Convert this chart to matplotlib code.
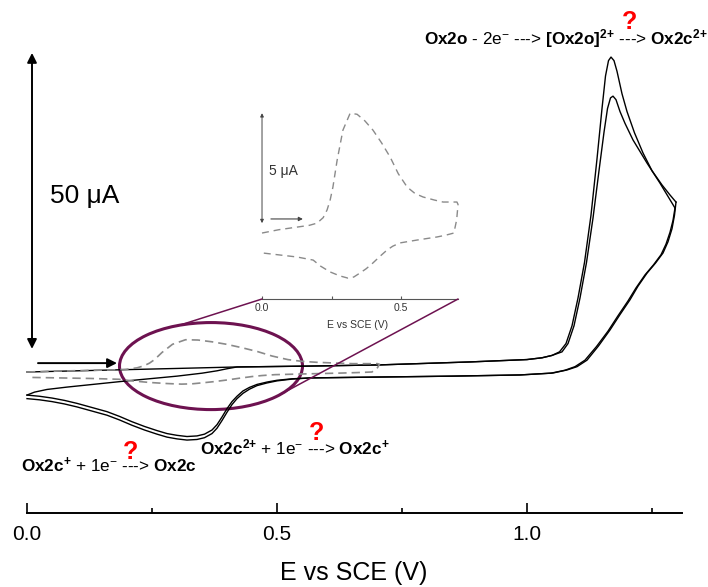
import numpy as np
import matplotlib
matplotlib.use("Agg")
import matplotlib.pyplot as plt
from matplotlib.patches import Ellipse, ConnectionPatch

plt.rcParams['font.family'] = ['Liberation Sans', 'DejaVu Sans']
plt.rcParams['mathtext.fontset'] = 'custom'
plt.rcParams['mathtext.rm'] = 'Liberation Sans'
plt.rcParams['mathtext.bf'] = 'Liberation Sans:bold'
plt.rcParams['mathtext.it'] = 'Liberation Sans:italic'

# first cycle, forward (anodic) scan
fwd1_v = [0.0, 0.1, 0.2, 0.3, 0.42, 0.566, 0.706, 0.886, 1.0, 1.03, 1.05, 1.065, 1.078, 1.09, 1.102,
          1.115, 1.128, 1.14, 1.15, 1.157, 1.163, 1.168, 1.174, 1.18, 1.19, 1.2, 1.215, 1.232,
          1.25, 1.27, 1.286, 1.298]
fwd1_i = [0.0, 0.2, 0.4, 0.6, 0.85, 1.0, 1.2, 1.7, 2.1, 2.4, 2.8, 3.4, 4.8, 7.8, 12.5,
          18.5, 26.5, 36.0, 44.5, 50.0, 52.6, 53.2, 52.6, 50.8, 47.0, 44.0, 40.4, 37.0,
          34.0, 31.6, 29.9, 28.7]
# first cycle, reverse scan
rev1_v = [1.298, 1.295, 1.29, 1.282, 1.272, 1.257, 1.24, 1.222, 1.206, 1.186, 1.166, 1.143, 1.12,
          1.1, 1.08, 1.052, 0.986, 0.85, 0.706, 0.566, 0.53, 0.50, 0.48, 0.46, 0.445, 0.432, 0.42,
          0.41, 0.40, 0.39, 0.38, 0.37, 0.355, 0.34, 0.32, 0.30, 0.28, 0.26, 0.235, 0.21, 0.185,
          0.16, 0.13, 0.10, 0.075, 0.05, 0.025, 0.0]
rev1_i = [28.7, 26.5, 24.2, 22.0, 20.1, 18.4, 16.7, 14.5, 12.2, 9.7, 7.1, 4.4, 2.0,
          0.9, 0.34, -0.17, -0.5, -0.7, -0.85, -1.0, -1.15, -1.4, -1.7, -2.1, -2.6, -3.2, -4.1,
          -5.0, -6.2, -7.6, -8.9, -9.8, -10.5, -10.8, -10.9, -10.7, -10.4, -9.9, -9.2, -8.4, -7.5,
          -6.7, -6.0, -5.3, -4.8, -4.4, -4.1, -3.9]
# second cycle, forward scan
fwd2_v = [0.0, 0.015, 0.04, 0.08, 0.12, 0.16, 0.2, 0.25, 0.3, 0.35, 0.38, 0.40, 0.42, 0.566, 0.706,
          0.886, 1.0, 1.03, 1.05, 1.07, 1.082, 1.094, 1.106, 1.119, 1.132, 1.144, 1.154, 1.161,
          1.167, 1.172, 1.178, 1.186, 1.196, 1.212, 1.24, 1.266, 1.296]
fwd2_i = [-3.9, -3.4, -2.95, -2.55, -2.2, -1.85, -1.5, -1.1, -0.7, -0.2, 0.2, 0.55, 0.85, 1.0, 1.2,
          1.7, 2.1, 2.4, 2.8, 3.4, 4.8, 7.8, 12.5, 18.5, 26.0, 34.0, 40.5, 44.5,
          46.3, 46.6, 46.0, 44.0, 42.0, 39.2, 35.3, 31.9, 27.7]
# second cycle, reverse scan
rev2_v = [1.296, 1.292, 1.286, 1.278, 1.268, 1.253, 1.236, 1.218, 1.202, 1.182, 1.162, 1.139, 1.116,
          1.096, 1.076, 1.048, 0.986, 0.85, 0.706, 0.566, 0.53, 0.50, 0.48, 0.46, 0.445, 0.432, 0.42,
          0.41, 0.40, 0.39, 0.38, 0.37, 0.355, 0.34, 0.32, 0.30, 0.28, 0.26, 0.235, 0.21, 0.185,
          0.16, 0.13, 0.10, 0.075, 0.05, 0.025, 0.0]
rev2_i = [27.7, 25.6, 23.6, 21.6, 19.8, 18.1, 16.4, 14.2, 12.0, 9.5, 6.9, 4.3, 2.0,
          0.9, 0.3, -0.2, -0.5, -0.7, -0.85, -1.0, -1.2, -1.5, -1.85, -2.3, -2.9, -3.6, -4.5,
          -5.5, -6.8, -8.2, -9.5, -10.4, -11.1, -11.4, -11.5, -11.3, -11.0, -10.5, -9.8, -9.0, -8.1,
          -7.3, -6.6, -5.9, -5.4, -5.0, -4.7, -4.5]

# narrow window scan (dashed, also shown enlarged in the inset)
dash_v = [0.0, 0.06, 0.126, 0.17, 0.198, 0.22, 0.234, 0.245, 0.255, 0.27, 0.291, 0.317, 0.342, 0.37,
          0.399, 0.43, 0.461, 0.49, 0.522, 0.55, 0.579, 0.62, 0.651, 0.701,
          0.705, 0.70, 0.69, 0.66, 0.629, 0.557, 0.496, 0.47, 0.45, 0.425, 0.399, 0.375, 0.352,
          0.33, 0.309, 0.28, 0.245, 0.21, 0.184, 0.126, 0.065, 0.004]
dash_i = [0.0, 0.15, 0.27, 0.35, 0.45, 0.7, 1.05, 1.5, 2.09, 3.3, 4.68, 5.45, 5.4, 5.1,
          4.68, 4.1, 3.45, 2.7, 2.09, 1.8, 1.64, 1.5, 1.41, 1.41,
          1.3, 0.6, 0.0, -0.1, -0.18, -0.32, -0.45, -0.6, -0.77, -1.05, -1.36, -1.62, -1.82,
          -2.0, -2.05, -1.95, -1.77, -1.5, -1.23, -1.09, -1.0, -0.91]

major_ticks = [0.0, 0.5, 1.0]
minor_ticks = [0.25, 0.75, 1.25]
tick_labels = ['0.0', '0.5', '1.0']

W, H = 708, 587


def px(x, y):
    return x / W, 1 - y / H


fig = plt.figure(figsize=(W / 100, H / 100), dpi=100)
ax = fig.add_axes([0, 0, 1, 1])
ax.set_xlim(-0.054, 1.362)
ax.set_ylim(-36.32, 62.84)
ax.patch.set_alpha(0)

for v, i in [(fwd1_v, fwd1_i), (rev1_v, rev1_i), (fwd2_v, fwd2_i), (rev2_v, rev2_i)]:
    ax.plot(v, i, color='black', lw=1.0, solid_joinstyle='round')
ax.plot(dash_v, dash_i, color='#8a8a8a', lw=1.2, ls=(0, (5, 3)))

for s in ['left', 'right', 'top']:
    ax.spines[s].set_visible(False)
ax.spines['bottom'].set_position(('data', -23.8))
ax.spines['bottom'].set_bounds(0, 1.31)
ax.spines['bottom'].set_linewidth(1.4)
ax.set_yticks([])
ax.set_xticks(major_ticks)
ax.set_xticklabels(tick_labels)
ax.set_xticks(minor_ticks, minor=True)
ax.tick_params(axis='x', which='major', direction='in', length=7, width=1.2, labelsize=15, pad=9)
ax.tick_params(axis='x', which='minor', direction='in', length=3.5, width=1.2)
fig.text(*px(354, 573), 'E vs SCE (V)', fontsize=18, ha='center', va='center')

# scale bar and scan direction
ax.annotate('', xy=(0.01, 53.9), xytext=(0.01, 3.9),
            arrowprops=dict(arrowstyle='<|-|>', lw=1.4, color='black', mutation_scale=14,
                            shrinkA=0, shrinkB=0))
fig.text(*px(50, 196), '50 \u03bcA', fontsize=19, ha='left', va='center')
ax.annotate('', xy=(0.18, 1.5), xytext=(0.022, 1.5),
            arrowprops=dict(arrowstyle='-|>', lw=1.4, color='black', mutation_scale=14,
                            shrinkA=0, shrinkB=0))

# zoom ellipse
purple = '#6d1250'
ec, ew, eh = (0.368, 1.0), 0.366, 14.7
ax.add_patch(Ellipse(ec, ew, eh, fc='none', ec=purple, lw=2.2))

# inset
ax_in = fig.add_axes([250 / W, 1 - 299 / H, 220 / W, 199 / H])
ax_in.set_xlim(-0.0432, 0.748)
ax_in.set_ylim(-3.0, 6.05)
ax_in.patch.set_alpha(0)
ax_in.plot(dash_v, dash_i, color='#8a8a8a', lw=1.0, ls=(0, (5, 3.5)))
for s in ['left', 'right', 'top']:
    ax_in.spines[s].set_visible(False)
ax_in.spines['bottom'].set_bounds(0, 0.705)
ax_in.spines['bottom'].set_color('#555555')
ax_in.set_yticks([])
ax_in.set_xticks([0.0, 0.5])
ax_in.set_xticklabels(['0.0', '0.5'])
ax_in.set_xticks([0.25], minor=True)
ax_in.tick_params(axis='x', which='both', direction='in', length=2.5, width=0.8,
                  color='#555555', labelsize=7.5, labelcolor='#333333', pad=3)
fig.text(*px(358, 325), 'E vs SCE (V)', fontsize=7.5, color='#333333', ha='center', va='center')
ax_in.annotate('', xy=(0.0, 5.45), xytext=(0.0, 0.45),
               arrowprops=dict(arrowstyle='<|-|>', lw=0.7, color='#444444', mutation_scale=5,
                               shrinkA=0, shrinkB=0))
ax_in.text(0.025, 2.8, '5 \u03bcA', fontsize=10, color='#333333', ha='left', va='center')
ax_in.annotate('', xy=(0.147, 0.64), xytext=(0.032, 0.64),
               arrowprops=dict(arrowstyle='-|>', lw=0.8, color='#444444', mutation_scale=6,
                               shrinkA=0, shrinkB=0))

# lines joining ellipse to the inset axis
for x_in, ang in [(0.0, 110), (0.705, -41.5)]:
    t = np.radians(ang)
    pt = (ec[0] + ew / 2 * np.cos(t), ec[1] + eh / 2 * np.sin(t))
    con = ConnectionPatch(xyA=(x_in, 0), coordsA=ax_in.get_xaxis_transform(),
                          xyB=pt, coordsB=ax.transData, color=purple, lw=1.1)
    fig.add_artist(con)

# reaction labels
fig.text(*px(424, 44), r'$\mathbf{Ox2o}$ - 2e$^{-}$ ---> $\mathbf{[Ox2o]}^{\mathbf{2{+}}}$ ---> $\mathbf{Ox2c}^{\mathbf{2{+}}}$',
         fontsize=12.3, ha='left', va='baseline')
fig.text(*px(200, 454), r'$\mathbf{Ox2c}^{\mathbf{2{+}}}$ + 1e$^{-}$ ---> $\mathbf{Ox2c}^{\mathbf{{+}}}$',
         fontsize=12.3, ha='left', va='baseline')
fig.text(*px(21, 472), r'$\mathbf{Ox2c}^{\mathbf{{+}}}$ + 1e$^{-}$ ---> $\mathbf{Ox2c}$',
         fontsize=12.3, ha='left', va='baseline')
for x, y in [(630, 29), (317, 440), (131, 459)]:
    fig.text(*px(x, y), '?', color='red', fontsize=18, fontweight='bold', ha='center', va='baseline')

fig.savefig('out.png', dpi=100)
